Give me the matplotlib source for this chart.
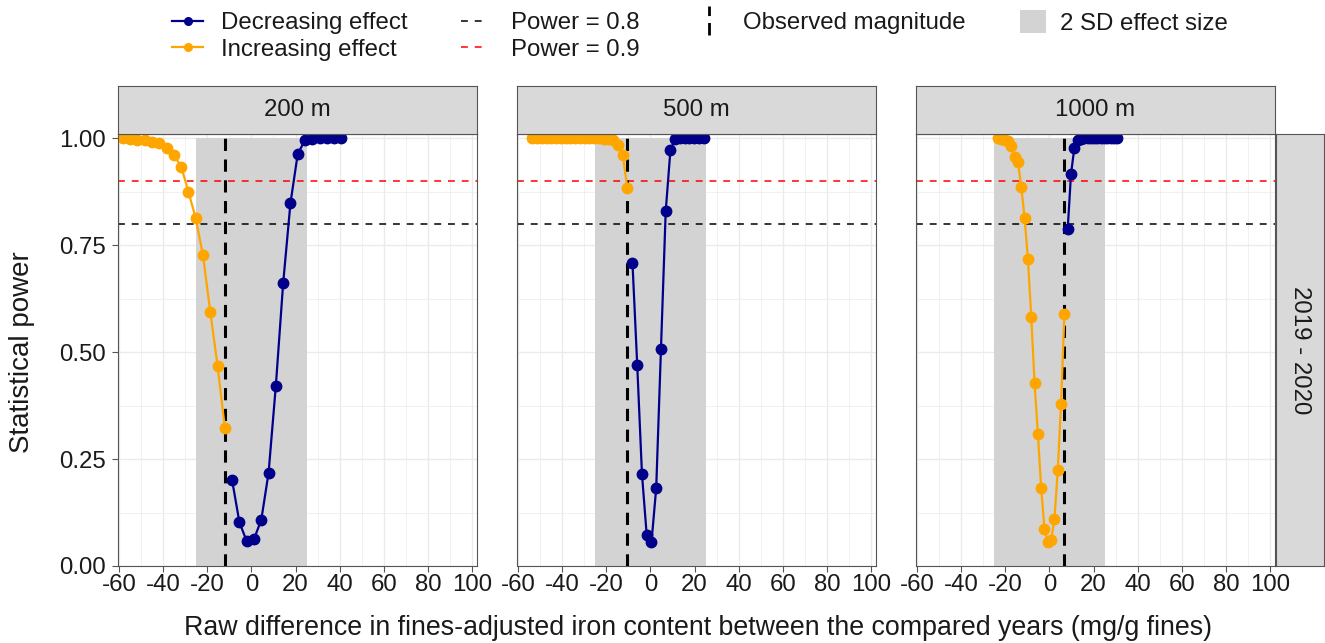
import matplotlib
matplotlib.use("Agg")
import matplotlib.pyplot as plt
from matplotlib.lines import Line2D
from matplotlib.patches import Patch
from matplotlib.legend_handler import HandlerBase

plt.rcParams['font.family'] = ['Liberation Sans', 'DejaVu Sans']

# facet labels
distances = ['200 m', '500 m', '1000 m']
period = '2019 - 2020'

# observed change and the +/- 2 SD band per distance
observed = [-12.0, -10.4, 6.8]
sd_lower = [-25.0, -25.0, -25.0]
sd_upper = [25.0, 25.0, 25.0]

# power targets
power_08 = 0.8
power_09 = 0.9

# 200 m
inc_x_200 = [-58.2, -54.9, -51.6, -48.3, -45.0, -41.7, -38.4, -35.1, -31.8, -28.5,
             -25.2, -21.9, -18.6, -15.3, -12.0]
inc_y_200 = [1.000, 0.999, 0.997, 0.995, 0.992, 0.988, 0.978, 0.961, 0.934, 0.875,
             0.813, 0.726, 0.594, 0.468, 0.323]
dec_x_200 = [-8.7, -5.4, -2.1, 1.2, 4.5, 7.8, 11.1, 14.4, 17.7, 21.0,
             24.3, 27.6, 30.9, 34.2, 37.5, 40.8]
dec_y_200 = [0.200, 0.102, 0.058, 0.063, 0.108, 0.218, 0.422, 0.661, 0.848, 0.963,
             0.996, 0.999, 1.000, 1.000, 1.000, 1.000]

# 500 m
inc_x_500 = [-53.4, -51.25, -49.1, -46.95, -44.8, -42.65, -40.5, -38.35, -36.2, -34.05,
             -31.9, -29.75, -27.6, -25.45, -23.3, -21.15, -19.0, -16.85, -14.7, -12.55,
             -10.4]
inc_y_500 = [1.000, 1.000, 1.000, 1.000, 1.000, 1.000, 1.000, 1.000, 1.000, 1.000,
             1.000, 1.000, 1.000, 1.000, 1.000, 0.999, 0.998, 0.995, 0.984, 0.962,
             0.884]
dec_x_500 = [-8.1, -5.95, -3.8, -1.65, 0.5, 2.65, 4.8, 6.95, 9.1, 11.25,
             13.4, 15.55, 17.7, 19.85, 22.0, 24.15]
dec_y_500 = [0.709, 0.470, 0.215, 0.072, 0.055, 0.182, 0.507, 0.829, 0.973, 0.998,
             1.000, 1.000, 1.000, 1.000, 1.000, 1.000]

# 1000 m
inc_x_1000 = [-23.2, -21.7, -20.2, -18.7, -17.2, -15.7, -14.2, -12.7, -11.2, -9.7,
              -8.2, -6.7, -5.2, -3.7, -2.2, -0.7, 0.8, 2.3, 3.8, 5.3,
              6.8]
inc_y_1000 = [1.000, 0.999, 0.997, 0.993, 0.981, 0.957, 0.945, 0.885, 0.813, 0.717,
              0.583, 0.427, 0.309, 0.182, 0.086, 0.057, 0.061, 0.109, 0.224, 0.379,
              0.588]
dec_x_1000 = [8.3, 9.8, 11.3, 12.8, 14.3, 15.8, 17.3, 18.8, 20.3, 21.8,
              23.3, 24.8, 26.3, 27.8, 29.3, 30.8]
dec_y_1000 = [0.787, 0.916, 0.977, 0.996, 0.999, 1.000, 1.000, 1.000, 1.000, 1.000,
              1.000, 1.000, 1.000, 1.000, 1.000, 1.000]

inc_x = [inc_x_200, inc_x_500, inc_x_1000]
inc_y = [inc_y_200, inc_y_500, inc_y_1000]
dec_x = [dec_x_200, dec_x_500, dec_x_1000]
dec_y = [dec_y_200, dec_y_500, dec_y_1000]

x_ticks = [-60, -40, -20, 0, 20, 40, 60, 80, 100]
y_ticks = [0.0, 0.25, 0.5, 0.75, 1.0]
y_ticklabels = ['0.00', '0.25', '0.50', '0.75', '1.00']

DEC_COLOR = '#00008B'
INC_COLOR = '#FFA500'
SHADE = '#D3D3D3'
STRIP = '#D9D9D9'
EDGE = '#555555'
GRID = '#EBEBEB'
TEXT = '#1A1A1A'

W, H = 1325, 643
fig = plt.figure(figsize=(W / 100, H / 100), dpi=100)


def px_box(left, top, right, bottom):
    # pixel rectangle -> figure fraction [l, b, w, h]
    return [left / W, 1 - bottom / H, (right - left) / W, (bottom - top) / H]


def style_frame(ax):
    for sp in ax.spines.values():
        sp.set_color(EDGE)
        sp.set_linewidth(0.8)


panel_left = [118, 517, 916]
panel_top, panel_bottom, panel_w = 134, 566, 359
dash_h = (0, (4.5, 4.5))
dash_v = (0, (4, 2.8))

for i, name in enumerate(distances):
    left = panel_left[i]
    ax = fig.add_axes(px_box(left, panel_top, left + panel_w, panel_bottom))
    ax.set_xlim(-60.4, 102.2)
    ax.set_ylim(0, 1.01)
    ax.set_axisbelow(True)

    ax.set_xticks(x_ticks)
    ax.set_xticks([-50, -30, -10, 10, 30, 50, 70, 90], minor=True)
    ax.set_yticks(y_ticks)
    ax.set_yticks([0.125, 0.375, 0.625, 0.875], minor=True)
    ax.grid(which='major', color=GRID, lw=1.0)
    ax.grid(which='minor', color=GRID, lw=0.5)
    ax.tick_params(which='minor', length=0)
    ax.tick_params(which='major', length=4, width=0.8, color=EDGE,
                   labelsize=17.3, labelcolor=TEXT)
    ax.tick_params(axis='x', pad=2)
    ax.tick_params(axis='y', pad=4.5)
    ax.set_xticklabels([str(t) for t in x_ticks])
    if i == 0:
        ax.set_yticklabels(y_ticklabels)
    else:
        ax.tick_params(axis='y', length=0, labelleft=False)
    style_frame(ax)

    # 2 SD band
    ax.fill_between([sd_lower[i], sd_upper[i]], 0, 1, color=SHADE, lw=0, zorder=0.8)

    ax.axhline(power_08, color='black', lw=1.1, ls=dash_h, zorder=1)
    ax.axhline(power_09, color='red', lw=1.1, ls=dash_h, zorder=1)
    ax.axvline(observed[i], color='black', lw=2.2, ls=dash_v, zorder=1.2)

    ax.plot(inc_x[i], inc_y[i], color=INC_COLOR, lw=1.6, marker='o', ms=7.5,
            zorder=2, clip_on=True)
    ax.plot(dec_x[i], dec_y[i], color=DEC_COLOR, lw=1.6, marker='o', ms=7.5,
            zorder=2, clip_on=True)

    # facet strip on top
    sax = fig.add_axes(px_box(left, 86, left + panel_w, panel_top))
    sax.set_facecolor(STRIP)
    sax.set_xticks([])
    sax.set_yticks([])
    style_frame(sax)
    sax.text(0.5, 0.5, name, ha='center', va='center', fontsize=17.3, color=TEXT,
             transform=sax.transAxes)

# row strip on the right
rax = fig.add_axes(px_box(panel_left[2] + panel_w + 1, panel_top, W - 1, panel_bottom))
rax.set_facecolor(STRIP)
rax.set_xticks([])
rax.set_yticks([])
style_frame(rax)
rax.text(0.5, 0.5, period, ha='center', va='center', rotation=-90, fontsize=17.3,
         color=TEXT, transform=rax.transAxes)

# axis titles
fig.text(22 / W, 1 - 352 / H, 'Statistical power', rotation=90, ha='center',
         va='center', fontsize=20, color=TEXT)
fig.text(698 / W, 1 - 628 / H,
         'Raw difference in fines-adjusted iron content between the compared years (mg/g fines)',
         ha='center', va='center', fontsize=19.3, color=TEXT)


class VerticalDashHandler(HandlerBase):
    def create_artists(self, legend, orig_handle, xdescent, ydescent,
                       width, height, fontsize, trans):
        x = width / 2 - xdescent
        line = Line2D([x, x], [-ydescent - 0.35 * height, height - ydescent + 0.35 * height],
                      color=orig_handle.get_color(), lw=orig_handle.get_linewidth())
        line.set_dashes([4.5, 2.5])
        line.set_transform(trans)
        return [line]


legend_kw = dict(frameon=False, loc='upper left', fontsize=17.3, borderpad=0,
                 borderaxespad=0, labelspacing=0.2, labelcolor=TEXT)
top_y = 1 - 12 / H

series_handles = [
    Line2D([], [], color=DEC_COLOR, lw=1.6, marker='o', ms=5.5),
    Line2D([], [], color=INC_COLOR, lw=1.6, marker='o', ms=5.5),
]
fig.legend(series_handles, ['Decreasing effect', 'Increasing effect'],
           bbox_to_anchor=(172 / W, top_y), handlelength=1.3,
           handletextpad=0.75, **legend_kw)

power_handles = [
    Line2D([], [], color='black', lw=1.1, ls=(0, (4.5, 4.5))),
    Line2D([], [], color='red', lw=1.1, ls=(0, (4.5, 4.5))),
]
fig.legend(power_handles, ['Power = 0.8', 'Power = 0.9'],
           bbox_to_anchor=(461 / W, top_y), handlelength=1.1,
           handletextpad=1.0, **legend_kw)

obs_handle = Line2D([], [], color='black', lw=2.0)
fig.legend([obs_handle], ['Observed magnitude'],
           bbox_to_anchor=(696 / W, top_y), handlelength=1.1,
           handletextpad=0.85, handler_map={Line2D: VerticalDashHandler()},
           **legend_kw)

fig.legend([Patch(facecolor=SHADE, edgecolor='none')], ['2 SD effect size'],
           bbox_to_anchor=(1020 / W, 1 - 10 / H), handlelength=1.1, handleheight=1.1,
           handletextpad=0.55, **legend_kw)

fig.savefig('out.png', dpi=100)
